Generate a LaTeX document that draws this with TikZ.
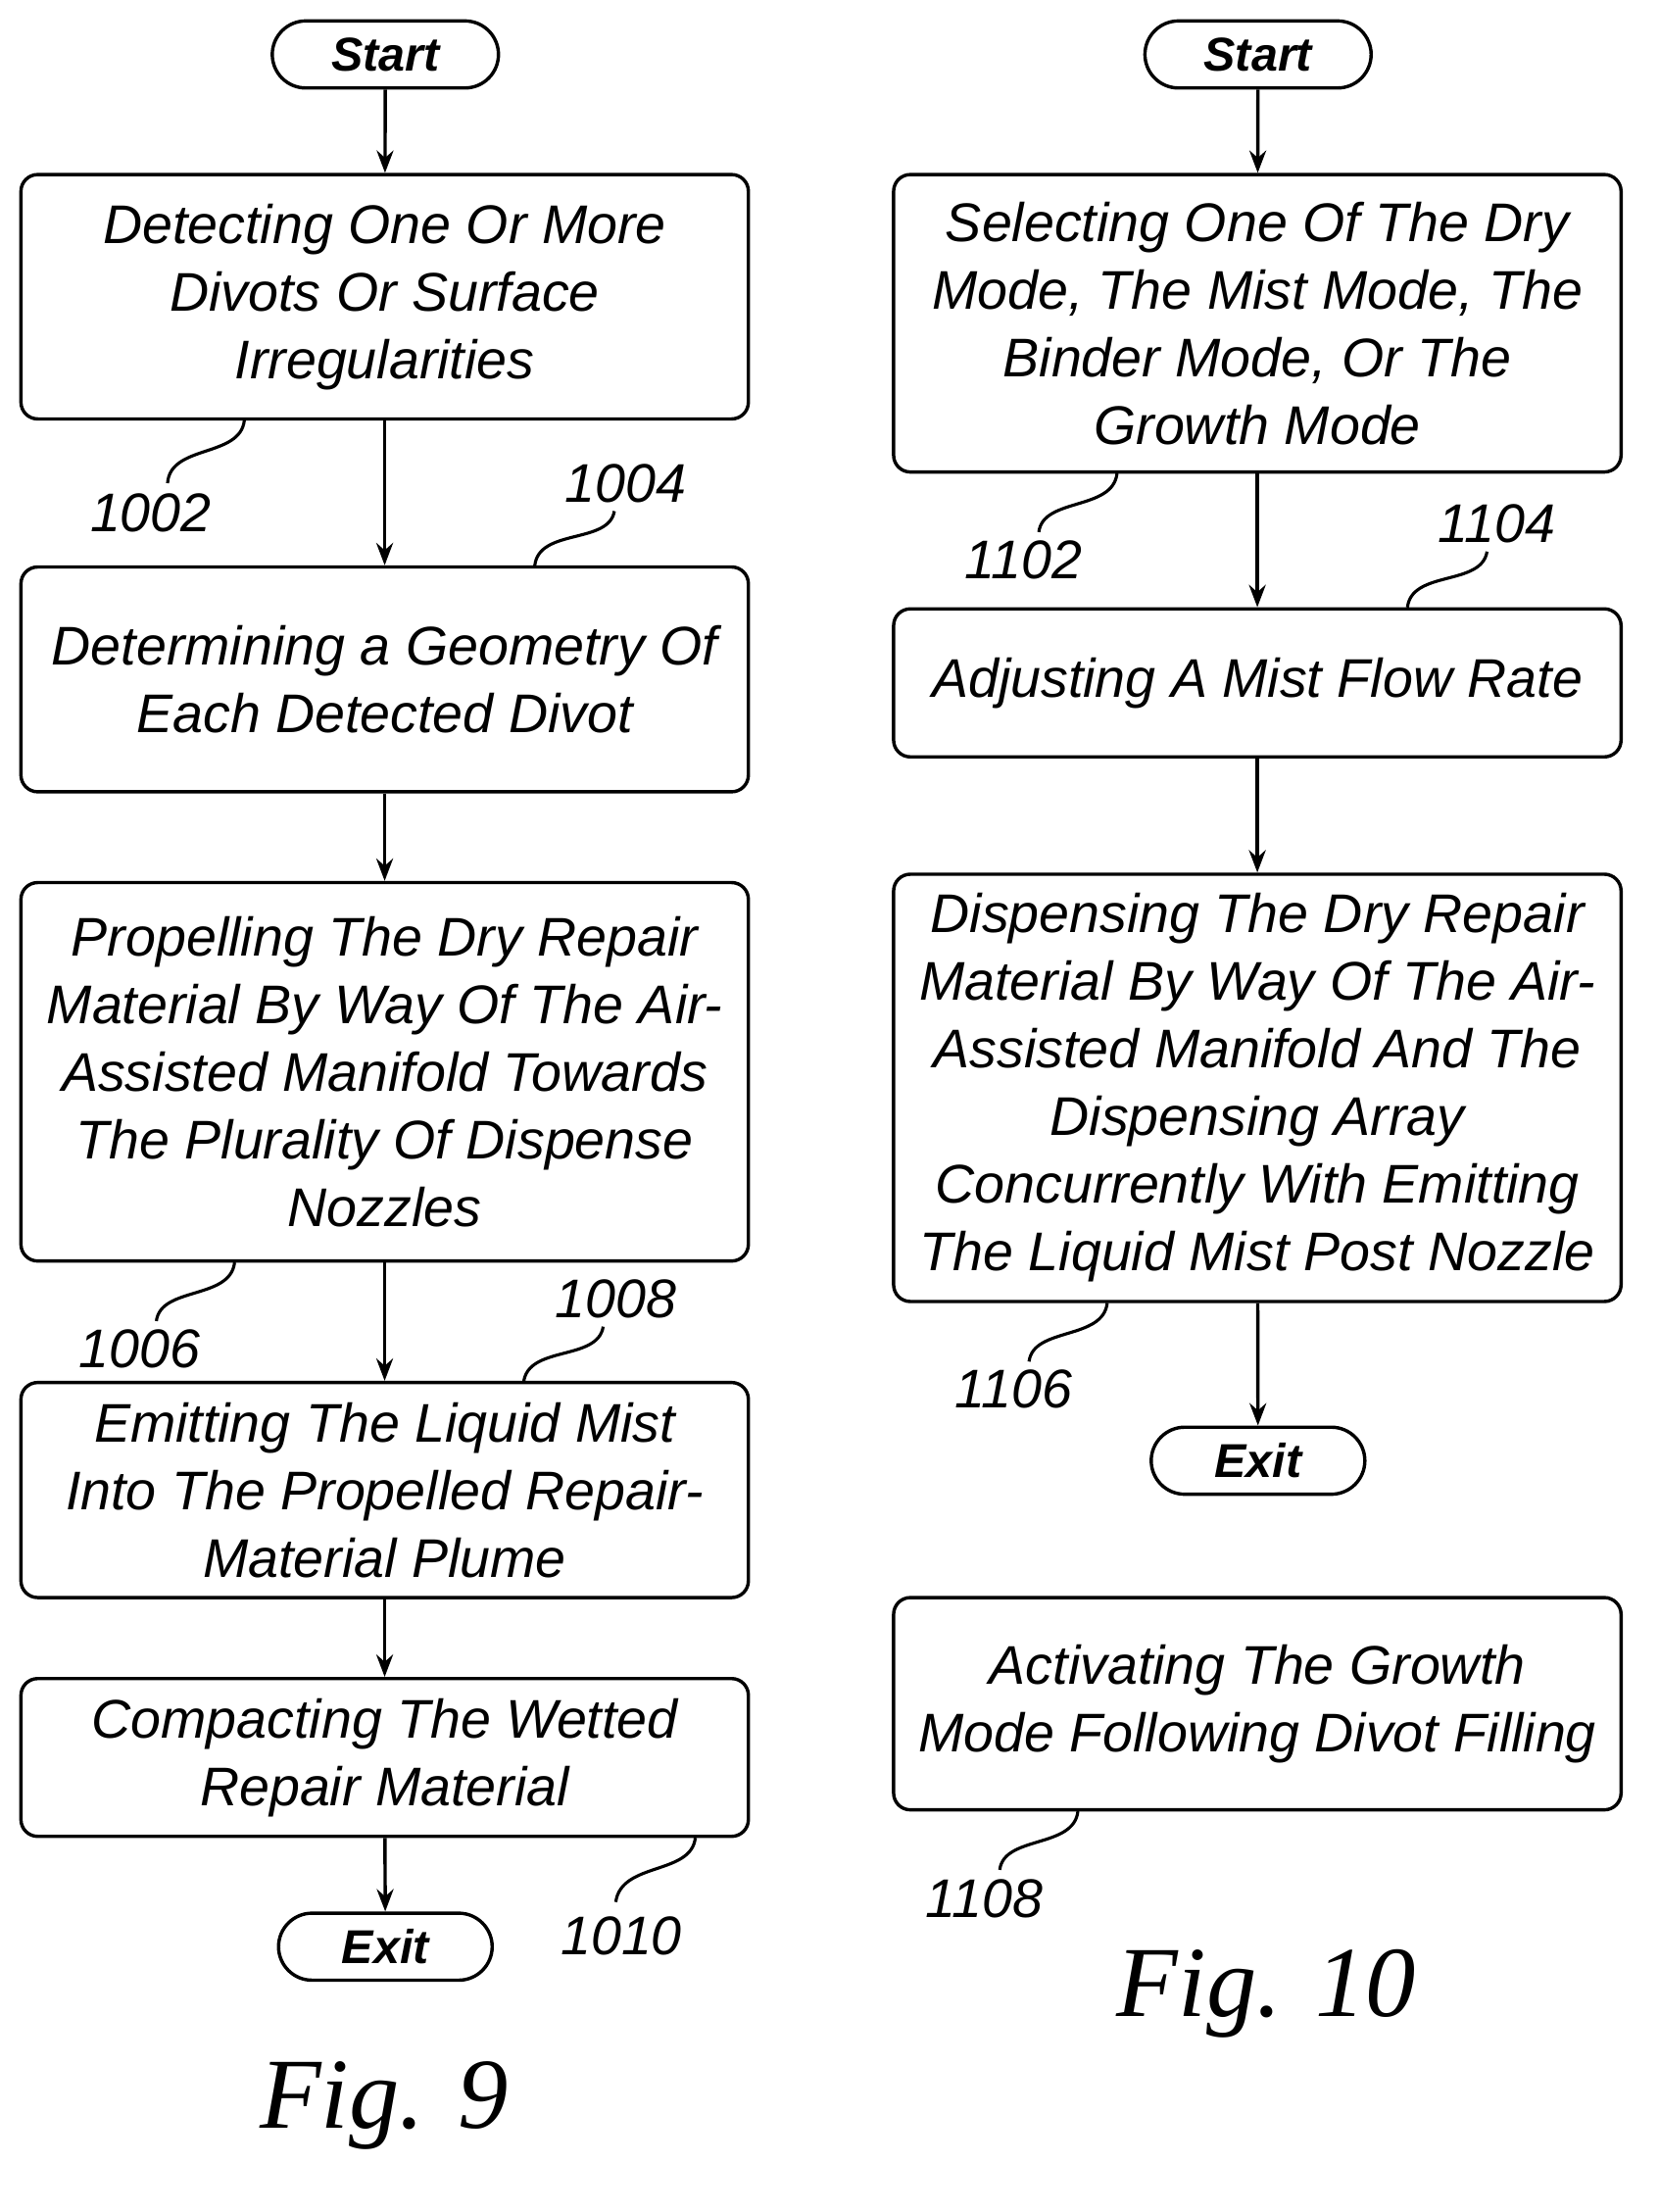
\documentclass[tikz,border=0pt]{standalone}
\usepackage{fontspec}
\usetikzlibrary{arrows.meta}
\setmainfont{Liberation Sans}
\newfontfamily\figfont{Liberation Serif}
\begin{document}
\begin{tikzpicture}[x=0.5pt,y=-0.5pt,line width=1.2pt,
  box/.style={draw,rounded corners=6pt,minimum width=260.5pt,align=center,inner sep=0pt,font=\fontsize{19.5}{24.2}\selectfont\itshape},
  pill/.style={draw,rounded corners=12pt,minimum height=24pt,inner sep=0pt,font=\fontsize{17}{20}\selectfont\bfseries\itshape},
  lbl/.style={font=\fontsize{19.5}{24}\selectfont\itshape},
  arr/.style={-{Stealth[length=8pt,width=6pt]}},
  sq/.style={line width=1.1pt}]
\useasboundingbox (0,0) rectangle (1188,1584);
% Left
\node[pill,minimum width=81pt] (s1) at (276,39) {Start};
\node[box,minimum height=87.5pt] (a1) at (275.5,212.5) {Detecting One Or More\\Divots Or Surface\\Irregularities};
\node[box,minimum height=80.5pt] (a2) at (275.5,486.5) {Determining a Geometry Of\\Each Detected Divot};
\node[box,minimum height=135.5pt] (a3) at (275.5,767.5) {Propelling The Dry Repair\\Material By Way Of The Air-\\Assisted Manifold Towards\\The Plurality Of Dispense\\Nozzles};
\node[box,minimum height=77pt] (a4) at (275.5,1067) {Emitting The Liquid Mist\\Into The Propelled Repair-\\Material Plume};
\node[box,minimum height=56.5pt] (a5) at (275.5,1258.5) {Compacting The Wetted\\Repair Material};
\node[pill,minimum width=76.5pt] (e1) at (276,1394) {Exit};
\draw[arr] (s1) -- (a1); \draw[arr] (a1) -- (a2); \draw[arr] (a2) -- (a3);
\draw[arr] (a3) -- (a4); \draw[arr] (a4) -- (a5); \draw[arr] (a5) -- (e1);
\node[lbl] (l1002) at (108,367) {1002};
\node[lbl] (l1004) at (448,346) {1004};
\node[lbl] (l1006) at (100,966) {1006};
\node[lbl] (l1008) at (441,930) {1008};
\node[lbl] (l1010) at (445,1386) {1010};
\draw[sq] (175,301) .. controls (172,328) and (122,318) .. (120,346);
\draw[sq] (383,405) .. controls (386,378) and (436,390) .. (440,366);
\draw[sq] (168,904) .. controls (165,931) and (115,921) .. (112,946);
\draw[sq] (375,990) .. controls (378,963) and (428,975) .. (432,950);
\draw[sq] (498,1316) .. controls (495,1343) and (445,1333) .. (441,1362);
\node[font=\fontsize{36}{40}\selectfont\figfont\itshape] (f9) at (275,1508) {Fig. 9};
% Right
\node[pill,minimum width=81pt] (s2) at (901,39) {Start};
\node[box,minimum height=106.5pt] (b1) at (900.5,231.5) {Selecting One Of The Dry\\Mode, The Mist Mode, The\\Binder Mode, Or The\\Growth Mode};
\node[box,minimum height=53pt] (b2) at (900.5,489) {Adjusting A Mist Flow Rate};
\node[box,minimum height=153pt] (b3) at (900.5,779) {Dispensing The Dry Repair\\Material By Way Of The Air-\\Assisted Manifold And The\\Dispensing Array\\Concurrently With Emitting\\The Liquid Mist Post Nozzle};
\node[pill,minimum width=76.5pt] (e2) at (901,1046) {Exit};
\node[box,minimum height=76pt] (b4) at (900.5,1220) {Activating The Growth\\Mode Following Divot Filling};
\draw[arr] (s2) -- (b1); \draw[arr] (b1) -- (b2); \draw[arr] (b2) -- (b3); \draw[arr] (b3) -- (e2);
\node[lbl] (l1102) at (733,401) {1102};
\node[lbl] (l1104) at (1072,375) {1104};
\node[lbl] (l1106) at (726,995) {1106};
\node[lbl] (l1108) at (705,1360) {1108};
\draw[sq] (800,339) .. controls (797,366) and (747,356) .. (744,381);
\draw[sq] (1008,435) .. controls (1011,408) and (1061,420) .. (1065,395);
\draw[sq] (793,933) .. controls (790,960) and (740,950) .. (737,975);
\draw[sq] (772,1297) .. controls (769,1324) and (719,1314) .. (716,1339);
\node[font=\fontsize{36}{40}\selectfont\figfont\itshape] (f10) at (907,1428) {Fig. 10};
\end{tikzpicture}
\end{document}
